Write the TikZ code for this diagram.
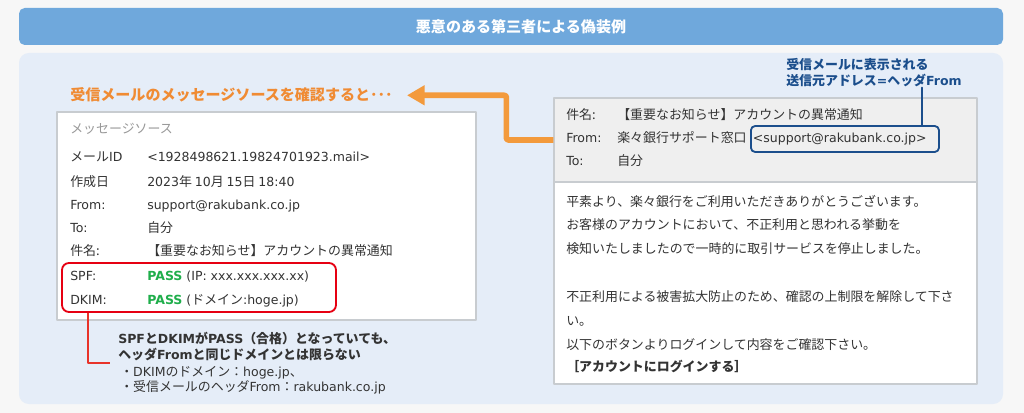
\documentclass[tikz,border=0pt]{standalone}
\usepackage{fontspec}
\setmainfont{Noto Sans CJK JP}
\newfontfamily\latinfont{DejaVu Sans}
\usetikzlibrary{arrows.meta}

\definecolor{pagegray}{HTML}{F7F7F7}
\definecolor{panelblue}{HTML}{E5EDF8}
\definecolor{titleblue}{HTML}{6FA8DC}
\definecolor{textgray}{HTML}{333333}
\definecolor{lightgray}{HTML}{999999}
\definecolor{boxgray}{HTML}{C8CCD0}
\definecolor{headgray}{HTML}{EFEFEF}
\definecolor{passgreen}{HTML}{1FAE4B}
\definecolor{alertred}{HTML}{E60012}
\definecolor{notered}{HTML}{E8332A}
\definecolor{arroworange}{HTML}{F39A3C}
\definecolor{headorange}{HTML}{F08B33}
\definecolor{fromblue}{HTML}{1B4E8C}

\newcommand{\boxfont}{\fontsize{9.2}{11}\selectfont}
\newcommand{\bigfont}{\fontsize{10.7}{13}\selectfont\bfseries}
\newcommand{\lat}[1]{{\latinfont\fontsize{8.9}{11}\selectfont #1}}

\begin{document}
\begin{tikzpicture}[x=0.025cm, y=-0.025cm, line cap=round, line join=round]

% ---------------- styles ----------------
\tikzset{
  panel/.style   ={fill=panelblue, rounded corners=7pt},
  titlebar/.style={fill=titleblue, rounded corners=4pt, text=white, font=\bigfont},
  mailbox/.style ={draw=boxgray, line width=0.9pt, fill=white},
  mailhd/.style  ={draw=boxgray, line width=0.9pt, fill=headgray},
  txt/.style     ={anchor=base west, inner sep=0pt, font=\boxfont, text=textgray},
  bold/.style    ={txt, font=\boxfont\bfseries},
  redframe/.style={draw=alertred, line width=1.3pt, rounded corners=5pt},
  blueframe/.style={draw=fromblue, line width=1.3pt, rounded corners=3pt},
  orangearrow/.style={draw=arroworange, line width=4pt, line cap=butt, rounded corners=1.5pt,
                      -{Triangle[width=13.5pt,length=12.5pt]}},
  redline/.style ={draw=notered, line width=1.4pt, line cap=butt},
  blueline/.style={draw=fromblue, line width=1.3pt}
}

% ---------------- parameters ----------------
\def\u{0.025cm}   % one pixel of the reference
\def\kx{70}       % left keys
\def\vx{147}      % left values
\def\rkx{566}     % right keys
\def\rvx{617}     % right values

% ---------------- background ----------------
\useasboundingbox[fill=pagegray] (0,0) rectangle (1024,413);
\path[panel] (19,53) rectangle (1003,404);
\path[titlebar] (19,8) rectangle (1003,45);
\node[text=white, font=\bigfont] (title) at (521,26.5) {悪意のある第三者による偽装例};

% ---------------- message source (left) ----------------
\node[txt, font=\bigfont, text=headorange] (heading) at (70,101)
  {受信メールのメッセージソースを確認すると･･･};

\node[mailbox, minimum width=419*\u, minimum height=208*\u] (srcbox) at (266.5,216) {};
\node[txt, text=lightgray] (srctitle) at (\kx,134) {メッセージソース};

\foreach \yy/\k/\v [count=\i] in {
    162/{メール\lat{ID}}/{\lat{<1928498621.19824701923.mail>}},
    186/作成日/{\lat{2023}年 \lat{10}月 \lat{15}日 \lat{18:40}},
    209/{\lat{From:}}/{\lat{support@rakubank.co.jp}},
    232/{\lat{To:}}/{自分},
    255/件名:/{【重要なお知らせ】アカウントの異常通知}}{
  \node[txt] (srckey\i) at (\kx,\yy) {\k};
  \node[txt] (srcval\i) at (\vx,\yy) {\v};
}

\node[txt] (spfkey)  at (\kx,280) {\lat{SPF:}};
\node[txt] (spfval)  at (\vx,280) {\lat{{\color{passgreen}\bfseries PASS} (IP: xxx.xxx.xxx.xx)}};
\node[txt] (dkimkey) at (\kx,304) {\lat{DKIM:}};
\node[txt] (dkimval) at (\vx,304) {\lat{{\color{passgreen}\bfseries PASS} (}ドメイン\lat{:hoge.jp)}};

\node[redframe, minimum width=274*\u, minimum height=49*\u] (spfbox) at (199,287.5) {};

% note under the source
\node[bold] (note1) at (118,343) {\lat{SPF}と\lat{DKIM}が\lat{PASS}（合格）となっていても、};
\node[bold] (note2) at (118,359) {ヘッダ\lat{From}と同じドメインとは限らない};
\node[txt]  (note3) at (120,376) {・\lat{DKIM}のドメイン：\lat{hoge.jp}、};
\node[txt]  (note4) at (120,391) {・受信メールのヘッダ\lat{From}：\lat{rakubank.co.jp}};
\coordinate (noteend) at (110,363);
\draw[redline] ([xshift=27*\u]spfbox.south west) |- (noteend);

% ---------------- received mail (right) ----------------
\node[mailhd, minimum width=423*\u, minimum height=84*\u] (mailhead) at (765.5,140) {};
\node[mailbox, minimum width=423*\u, minimum height=202*\u] (mailbody) at (765.5,283) {};

\node[txt] (hdkey1) at (\rkx,120) {件名:};
\node[txt] (hdval1) at (\rvx,120) {【重要なお知らせ】アカウントの異常通知};
\node[txt] (hdkey2) at (\rkx,143) {\lat{From:}};
\node[txt] (hdval2) at (\rvx,143) {楽々銀行サポート窓口};
\node[txt] (hdkey3) at (\rkx,166) {\lat{To:}};
\node[txt] (hdval3) at (\rvx,166) {自分};

\node[blueframe, font=\boxfont, text=textgray, anchor=west, inner xsep=2*\u,
      text width=4.6cm, align=left, minimum height=26*\u] (addr) at (750,139)
  {\lat{<support@rakubank.co.jp>}};

\node[bold, text=fromblue] (fromlbl1) at (786,70) {受信メールに表示される};
\node[bold, text=fromblue] (fromlbl2) at (786,86) {送信元アドレス\lat{=}ヘッダ\lat{From}};
\draw[blueline] ([xshift=-18*\u]addr.north east) -- ([xshift=-18*\u]addr.north east |- fromlbl2.south);

\foreach \yy/\t [count=\i] in {
    206/{平素より、楽々銀行をご利用いただきありがとうございます。},
    229/{お客様のアカウントにおいて、不正利用と思われる挙動を},
    253/{検知いたしましたので一時的に取引サービスを停止しました。},
    301/{不正利用による被害拡大防止のため、確認の上制限を解除して下さ},
    325/{い。},
    349/{以下のボタンよりログインして内容をご確認下さい。}}{
  \node[txt] (body\i) at (\rkx,\yy) {\t};
}
\node[bold] (login) at (\rkx,371) {［アカウントにログインする］};

% ---------------- connector ----------------
\draw[orangearrow] (mailhead.west) -- ++(-47,0) |- ([xshift=14*\u]heading.east);

\end{tikzpicture}
\end{document}
